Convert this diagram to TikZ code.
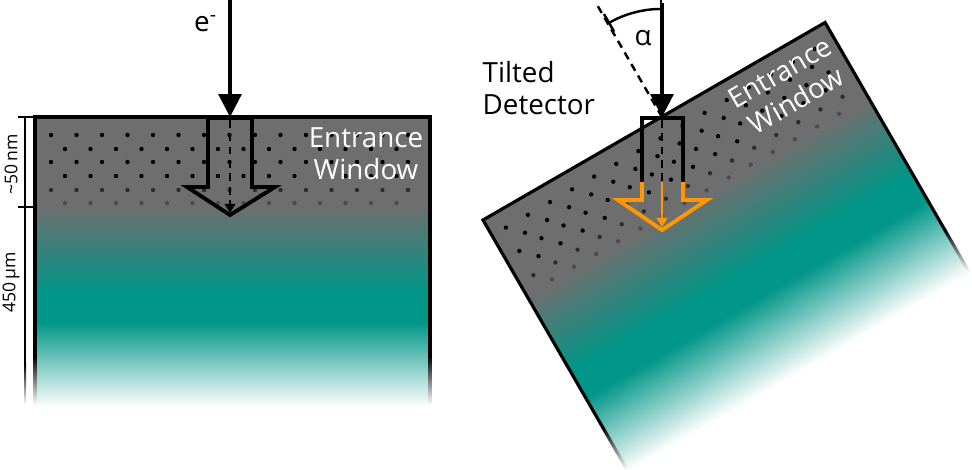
\documentclass[tikz,border=0pt]{standalone}
\usepackage{fontspec}
\setmainfont{Open Sans}
\usetikzlibrary{arrows.meta}
\definecolor{ewgray}{HTML}{6E6E6E}
\definecolor{siteal}{HTML}{009688}
\definecolor{beamorange}{HTML}{FF9800}
\tikzset{
        >={Triangle[length=6.5pt,width=6.5pt]}, % big heads for the electron
        beam/.style={line width=0.9pt, ->}, % the incoming electron
        waferedge/.style={line width=0.9pt}, % outline of the detector
        hollowarrow/.style={line width=1.1pt, line join=miter}, % the wide arrow into the window
        track/.style={line width=0.7pt, dash pattern=on 2.2pt off 1.6pt}, % dashed lines
        smalltip/.style={-{Triangle[length=2.6pt,width=3pt]}}, % tip of the thin arrows
        ewdot/.style={black}, % dots in the entrance window
        txt/.style={font=\fontsize{7.9}{9.2}\selectfont, inner sep=0pt, align=center},
        dimtxt/.style={font=\fontsize{5}{6}\selectfont, inner sep=0pt, rotate=90},
}
% one detector, top left corner at the origin
\newcommand{\detector}[1]{%
  \fill[ewgray] (0,0) rectangle (395,89);
  \shade[top color=ewgray, bottom color=siteal] (0,88) rectangle (395,176);
  \fill[siteal] (0,175) rectangle (395,206);
  \shade[top color=siteal, bottom color=white] (0,205) rectangle (395,290);
  \foreach \y/\op in {18/1,45/1,73/.6}
    \foreach \k in {0,...,14}
      \fill[ewdot, opacity=\op] (16+25.5*\k,\y) circle (2.2);
  \foreach \y/\op in {32/1,59/1,86/.3}
    \foreach \k in {0,...,13}
      \fill[ewdot, opacity=\op] (30+25.5*\k,\y) circle (2.2);
  \draw[waferedge] (0,240) -- (0,0) -- (395,0) -- (395,240);
  \shade[top color=black, bottom color=white] (-1.6,239) rectangle (1.6,288);
  \shade[top color=black, bottom color=white] (393.4,239) rectangle (396.6,288);
  \node[txt, white] (ew#1) at (331,37) {Entrance\\Window};
}

\begin{document}
\begin{tikzpicture}[x=0.01cm, y=-0.01cm]
\useasboundingbox (0,0) rectangle (972,470);

% straight detector
\begin{scope}[shift={(35,117)}]
  \detector{L}
\end{scope}
\draw[line width=0.6pt] (25,117) -- (25,365);
\shade[top color=black, bottom color=white] (24,364) rectangle (26,405);
\draw[line width=0.6pt] (18,117) -- (35,117);
\draw[line width=0.6pt] (18,207) -- (35,207);
\node[dimtxt] (thin) at (11,164) {\textasciitilde50\,nm};
\node[dimtxt] (thick) at (11,282) {450\,µm};

\coordinate (srcL) at (230,0);
\coordinate (hitL) at (230,117);
\coordinate (endL) at (230,213);
\draw[beam] (srcL) -- (hitL);
\node[txt] (eL) at (206,24) {e\textsuperscript{-}};
\draw[hollowarrow] (208,118) -- (208,187) -- (187,187) -- (230,215) -- (275,187) -- (252,187) -- (252,118) -- cycle;
\draw[track, smalltip] (hitL) ++(0,3) -- (endL);

% tilted detector
\begin{scope}[transform canvas={shift={(483,220)}, rotate=30}]
  \detector{R}
\end{scope}
\node[txt, align=left, anchor=west] (tilt) at (482,88) {Tilted\\Detector};

\coordinate (srcR) at (662,3);
\coordinate (hitR) at (662,117);
\coordinate (nrmR) at (596,3);
\coordinate (midR) at (662,182);
\coordinate (endR) at (662,227);
\draw[track] (hitR) -- (nrmR);
\draw[line width=0.7pt, |-|] (hitR) ++(270:108) arc[start angle=270, end angle=240, radius=108];
\node[txt] (alpha) at (643,38) {α};
\draw[beam] (srcR) -- (hitR);
\draw[hollowarrow] (642,182) -- (642,118) -- (683,118) -- (683,182);
\draw[hollowarrow, beamorange] (642,182) -- (642,200) -- (618,200) -- (662,230) -- (707,200) -- (683,200) -- (683,182);
\draw[track] (hitR) ++(0,3) -- (midR);
\draw[line width=0.7pt, beamorange, smalltip] (midR) -- (endR);
\end{tikzpicture}
\end{document}
